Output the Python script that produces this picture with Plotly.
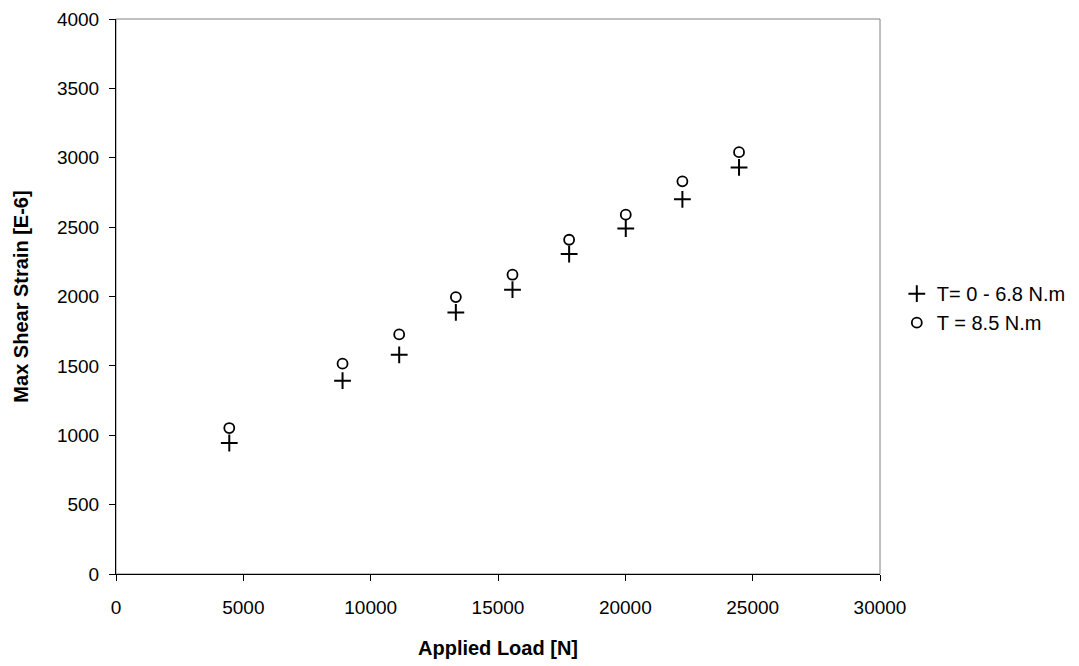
import plotly.graph_objects as go

load = [4448, 8896, 11120, 13345, 15569, 17793, 20017, 22241, 24465]
strain_low = [944, 1393, 1580, 1885, 2049, 2306, 2490, 2700, 2930]
strain_high = [1052, 1516, 1727, 1996, 2157, 2409, 2590, 2830, 3040]
name_low = "T= 0 - 6.8 N.m"
name_high = "T = 8.5 N.m"
x_ticks = [0, 5000, 10000, 15000, 20000, 25000, 30000]
y_ticks = [0, 500, 1000, 1500, 2000, 2500, 3000, 3500, 4000]

fig = go.Figure()
fig.add_trace(go.Scatter(x=load, y=strain_low, mode="markers", name=name_low,
                         marker=dict(symbol="cross-thin", size=12, color="black",
                                     line=dict(color="black", width=2))))
fig.add_trace(go.Scatter(x=load, y=strain_high, mode="markers", name=name_high,
                         marker=dict(symbol="circle-open", size=10, color="black",
                                     line=dict(color="black", width=1.8))))

font_family = "Liberation Sans, Arial, sans-serif"
fig.update_layout(
    width=1079, height=666,
    margin=dict(l=108, r=207, t=11, b=100, autoexpand=False),
    plot_bgcolor="white", paper_bgcolor="white",
    font=dict(family=font_family, size=20, color="black"),
    xaxis=dict(range=[0, 30000], tickvals=x_ticks, ticktext=[str(v) for v in x_ticks],
               showgrid=False, zeroline=False, showline=True, linecolor="black",
               linewidth=1, ticks="outside", ticklen=6, tickcolor="black",
               ticklabelstandoff=10, automargin=False, tickfont=dict(size=19),
               title=dict(text="<b>Applied Load [N]</b>", font=dict(size=20), standoff=24)),
    yaxis=dict(range=[0, 4000], tickvals=y_ticks, ticktext=[str(v) for v in y_ticks],
               showgrid=False, zeroline=False, showline=True, linecolor="black",
               linewidth=1, ticks="outside", ticklen=6, tickcolor="black",
               ticklabelstandoff=6, automargin=False, tickfont=dict(size=19),
               title=dict(text="<b>Max Shear Strain [E-6]</b>", font=dict(size=20), standoff=22)),
    legend=dict(x=1.022, y=0.479, xanchor="left", yanchor="middle",
                font=dict(size=20), bgcolor="rgba(0,0,0,0)", tracegroupgap=0,
                itemwidth=30),
    showlegend=True,
)
fig.add_shape(type="rect", xref="paper", yref="paper", x0=0, y0=0, x1=1, y1=1,
              line=dict(color="#808080", width=1), layer="below")

fig.write_html("out.html")
